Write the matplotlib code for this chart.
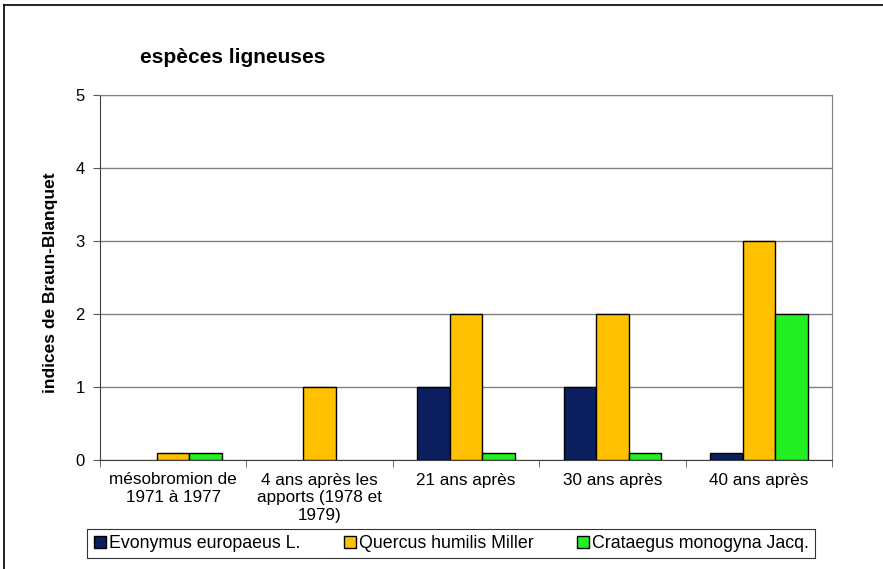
import numpy as np
import matplotlib
matplotlib.use("Agg")
import matplotlib.pyplot as plt
from matplotlib.lines import Line2D

plt.rcParams['font.family'] = ['Liberation Sans', 'DejaVu Sans']

# Data
categories = ["mésobromion de\n1971 à 1977",
              "4 ans après les\napports (1978 et\n1979)",
              "21 ans après",
              "30 ans après",
              "40 ans après"]
series_names = ["Evonymus europaeus L.", "Quercus humilis Miller", "Crataegus monogyna Jacq."]
evonymus = [0, 0, 1, 1, 0.1]
quercus = [0.1, 1, 2, 2, 3]
crataegus = [0.1, 0, 0.1, 0.1, 2]
colors = ["#0b1f5e", "#ffc000", "#22f022"]

fig = plt.figure(figsize=(8.83, 5.69), dpi=100)
ax = fig.add_axes([100 / 883, 1 - 460 / 569, 732 / 883, 365 / 569])

x = np.arange(len(categories))
w = 0.222
for i, (vals, col, name) in enumerate(zip([evonymus, quercus, crataegus], colors, series_names)):
    # zero values are not drawn at all
    vals = np.array(vals, dtype=float)
    vals[vals == 0] = np.nan
    ax.bar(x + (i - 1) * w, vals, width=w, color=col, edgecolor="black",
           linewidth=1.0, label=name, zorder=3)

ax.set_xlim(-0.5, len(categories) - 0.5)
ax.set_ylim(0, 5)
ax.set_yticks(range(6))
ax.yaxis.grid(True, color="#808080", linewidth=1.0, zorder=0)
ax.set_xticks(x)
ax.set_xticklabels(categories, fontsize=12.3, linespacing=1.24)
ax.tick_params(axis="x", length=0, pad=9)
ax.set_xticks(np.arange(-0.5, len(categories)), minor=True)
ax.tick_params(axis="x", which="minor", length=5, direction="out", color="#555555")
ax.tick_params(axis="y", length=5, direction="out", labelsize=12, pad=6, color="#555555")
for side in ["left", "bottom"]:
    ax.spines[side].set_color("#404040")
for side in ["top", "right"]:
    ax.spines[side].set_color("#808080")

ax.set_ylabel("indices de Braun-Blanquet", fontsize=12.5, fontweight="bold")
ax.yaxis.set_label_coords(-42 / 732, 0.485)

fig.text(140 / 883, 1 - 57 / 569, "espèces ligneuses", fontsize=15, fontweight="bold",
         va="center", ha="left")

handles = [Line2D([], [], marker="s", linestyle="none", markersize=8,
                  markerfacecolor=c, markeredgecolor="black") for c in colors]
leg = fig.legend(handles, series_names, loc="center", ncol=3,
                 bbox_to_anchor=(451 / 883, 1 - 543.5 / 569), fontsize=12.8,
                 frameon=True, fancybox=False, edgecolor="black",
                 handletextpad=0.1, columnspacing=2.4, handlelength=0.8,
                 borderpad=0.35)
leg.get_frame().set_linewidth(0.8)

# outer frame lines (top and left)
fig.add_artist(Line2D([4 / 883, 1], [1 - 5 / 569, 1 - 5 / 569], color="black", linewidth=1.2))
fig.add_artist(Line2D([4 / 883, 4 / 883], [0, 1 - 5 / 569], color="black", linewidth=1.2))

fig.savefig("out.png", dpi=100)
